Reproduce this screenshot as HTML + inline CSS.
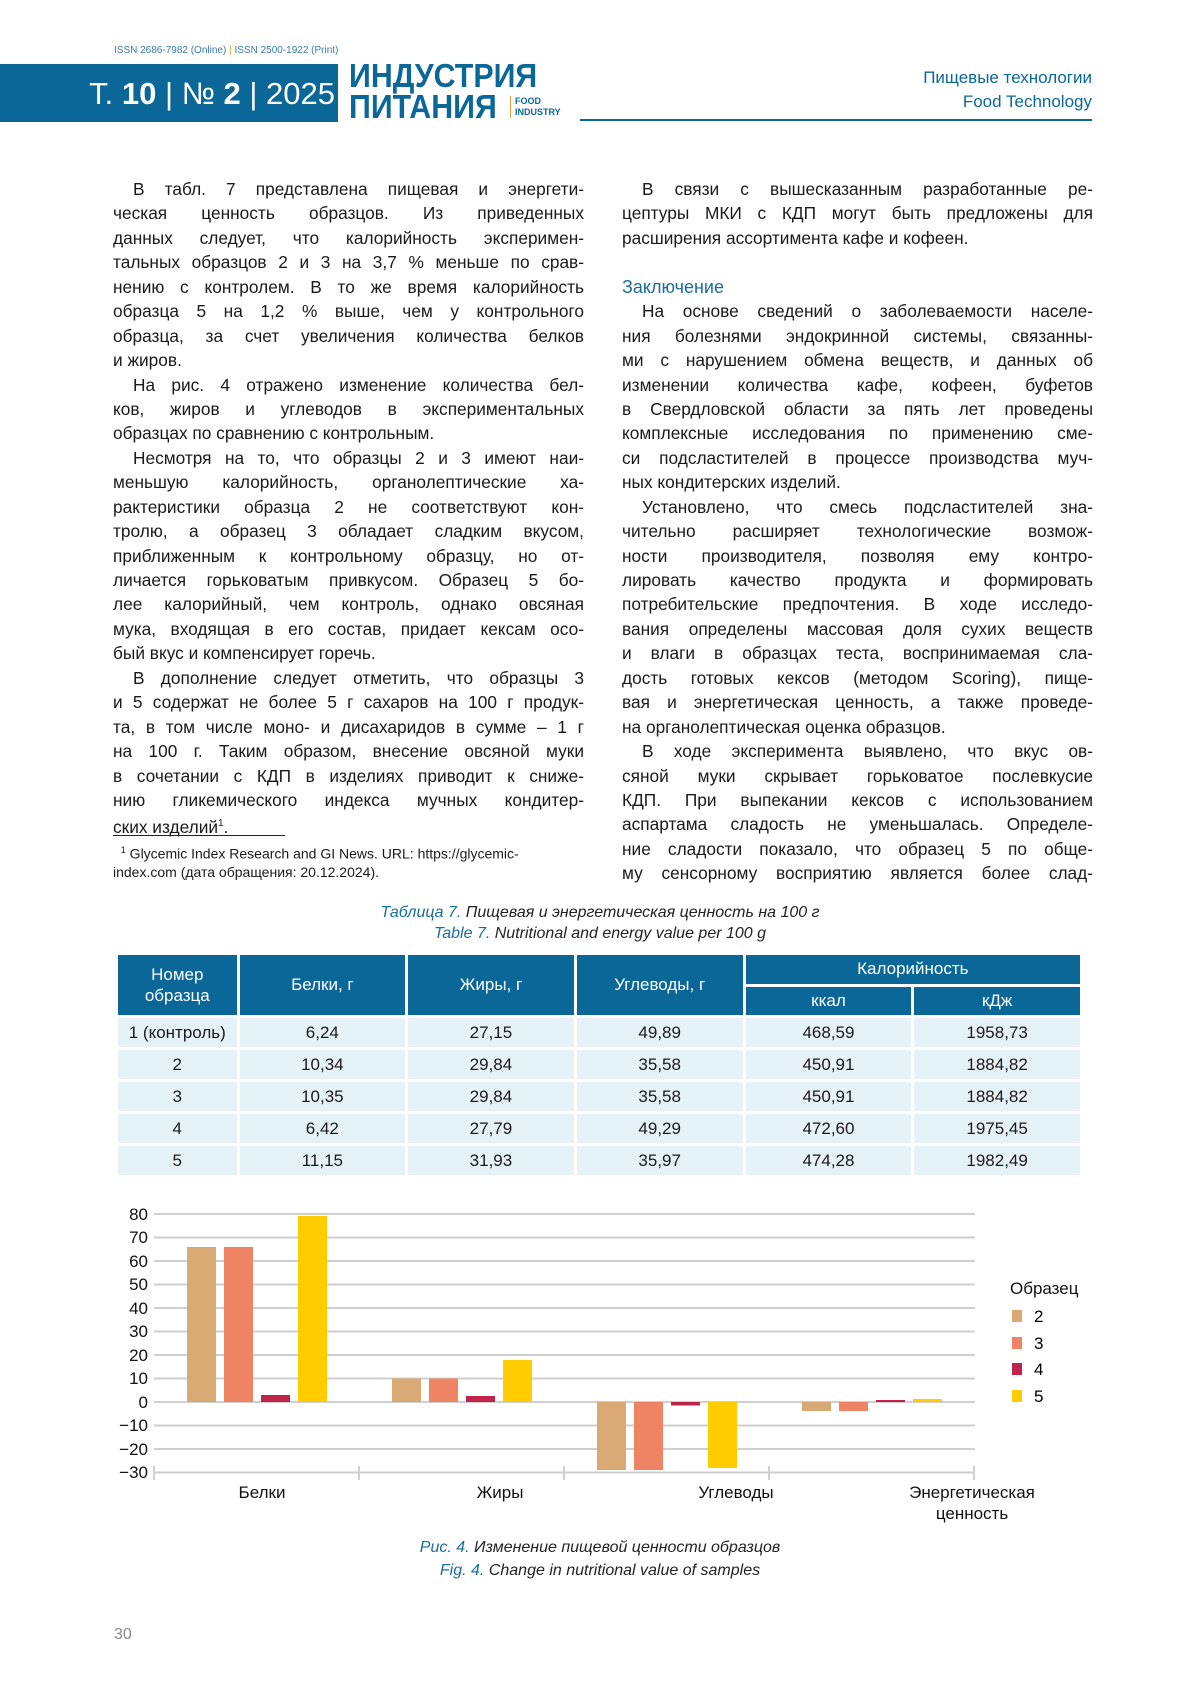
<!DOCTYPE html>
<html><head><meta charset="utf-8">
<style>
body{margin:0;width:1200px;height:1697px;position:relative;background:#fff;font-family:"Liberation Sans","DejaVu Sans",sans-serif;color:#1a1a1a;overflow:hidden}
.abs{position:absolute}
.col{position:absolute;width:471px;font-size:17.3px}
.col div{height:24.45px;line-height:24.45px;white-space:nowrap;text-align:justify;text-align-last:justify}
.col div.l{text-align-last:left}
.col div.i{text-indent:20px}
.blue{color:#1a6d9c}
table{border-collapse:separate;border-spacing:3px;position:absolute;left:115px;top:952px;width:968px;font-size:17px}
td,th{text-align:center;padding:0}
th{background:#0b6797;color:#fff;font-weight:normal}
td{background:#e5f3f9;height:29px}
.cap{position:absolute;left:0;width:1200px;text-align:center;font-style:italic;font-size:16px;color:#222}
</style></head><body>
<div class="abs" style="left:114px;top:45px;font-size:10px;color:#3a7aa8">ISSN 2686-7982 (Online) <span style="color:#e0a040">|</span> ISSN 2500-1922 (Print)</div>
<div class="abs" style="left:0;top:64px;width:338px;height:58px;background:#0b6797"></div>
<div class="abs" style="left:0;top:72px;width:335px;text-align:right;color:#fff;font-size:31px;line-height:44px">Т. <b>10</b> | № <b>2</b> | 2025</div>
<div class="abs" style="left:349px;top:60px;color:#0b6797;font-size:33px;font-weight:bold;line-height:31px;transform:scaleX(.92);transform-origin:left">ИНДУСТРИЯ<br>ПИТАНИЯ</div>
<div class="abs" style="left:510px;top:96px;border-left:1px solid #e0a040;padding-left:4px;color:#0b6797;font-size:9px;font-weight:bold;line-height:11px">FOOD<br>INDUSTRY</div>
<div class="abs" style="left:580px;top:119px;width:512px;height:2px;background:#0b6797"></div>
<div class="abs" style="left:800px;top:66px;width:292px;text-align:right;color:#0b6797;font-size:17px;line-height:24px">Пищевые технологии<br>Food Technology</div>

<div class="col" style="left:113px;top:177px">
<div class="i">В табл. 7 представлена пищевая и энергети-</div>
<div>ческая ценность образцов. Из приведенных</div>
<div>данных следует, что калорийность эксперимен-</div>
<div>тальных образцов 2 и 3 на 3,7 % меньше по срав-</div>
<div>нению с контролем. В то же время калорийность</div>
<div>образца 5 на 1,2 % выше, чем у контрольного</div>
<div>образца, за счет увеличения количества белков</div>
<div class="l">и жиров.</div>
<div class="i">На рис. 4 отражено изменение количества бел-</div>
<div>ков, жиров и углеводов в экспериментальных</div>
<div class="l">образцах по сравнению с контрольным.</div>
<div class="i">Несмотря на то, что образцы 2 и 3 имеют наи-</div>
<div>меньшую калорийность, органолептические ха-</div>
<div>рактеристики образца 2 не соответствуют кон-</div>
<div>тролю, а образец 3 обладает сладким вкусом,</div>
<div>приближенным к контрольному образцу, но от-</div>
<div>личается горьковатым привкусом. Образец 5 бо-</div>
<div>лее калорийный, чем контроль, однако овсяная</div>
<div>мука, входящая в его состав, придает кексам осо-</div>
<div class="l">бый вкус и компенсирует горечь.</div>
<div class="i">В дополнение следует отметить, что образцы 3</div>
<div>и 5 содержат не более 5 г сахаров на 100 г продук-</div>
<div>та, в том числе моно- и дисахаридов в сумме – 1 г</div>
<div>на 100 г. Таким образом, внесение овсяной муки</div>
<div>в сочетании с КДП в изделиях приводит к сниже-</div>
<div>нию гликемического индекса мучных кондитер-</div>
<div class="l">ских изделий<sup style="font-size:10px">1</sup>.</div>
</div>
<div class="abs" style="left:113px;top:835px;width:172px;height:1px;background:#222"></div>
<div class="abs" style="left:113px;top:841px;width:471px;font-size:14px;line-height:18px;text-align:justify;text-align-last:left">&nbsp;&nbsp;<sup style="font-size:9px">1</sup> Glycemic Index Research and GI News. URL: https://glycemic-<br>index.com (дата обращения: 20.12.2024).</div>

<div class="col" style="left:622px;top:177px">
<div class="i">В связи с вышесказанным разработанные ре-</div>
<div>цептуры МКИ с КДП могут быть предложены для</div>
<div class="l">расширения ассортимента кафе и кофеен.</div>
<div class="l"></div>
<div class="l blue" style="font-size:18px">Заключение</div>
<div class="i">На основе сведений о заболеваемости населе-</div>
<div>ния болезнями эндокринной системы, связанны-</div>
<div>ми с нарушением обмена веществ, и данных об</div>
<div>изменении количества кафе, кофеен, буфетов</div>
<div>в Свердловской области за пять лет проведены</div>
<div>комплексные исследования по применению сме-</div>
<div>си подсластителей в процессе производства муч-</div>
<div class="l">ных кондитерских изделий.</div>
<div class="i">Установлено, что смесь подсластителей зна-</div>
<div>чительно расширяет технологические возмож-</div>
<div>ности производителя, позволяя ему контро-</div>
<div>лировать качество продукта и формировать</div>
<div>потребительские предпочтения. В ходе исследо-</div>
<div>вания определены массовая доля сухих веществ</div>
<div>и влаги в образцах теста, воспринимаемая сла-</div>
<div>дость готовых кексов (методом Scoring), пище-</div>
<div>вая и энергетическая ценность, а также проведе-</div>
<div class="l">на органолептическая оценка образцов.</div>
<div class="i">В ходе эксперимента выявлено, что вкус ов-</div>
<div>сяной муки скрывает горьковатое послевкусие</div>
<div>КДП. При выпекании кексов с использованием</div>
<div>аспартама сладость не уменьшалась. Определе-</div>
<div>ние сладости показало, что образец 5 по обще-</div>
<div>му сенсорному восприятию является более слад-</div>
</div>

<div class="cap" style="top:904px"><span class="blue">Таблица 7.</span> Пищевая и энергетическая ценность на 100 г</div>
<div class="cap" style="top:925px"><span class="blue">Table 7.</span> Nutritional and energy value per 100 g</div>

<table>
<tr><th rowspan="2" style="width:119px;height:60px;line-height:21px">Номер<br>образца</th><th rowspan="2" style="width:167px">Белки, г</th><th rowspan="2" style="width:167px">Жиры, г</th><th rowspan="2" style="width:167px">Углеводы, г</th><th colspan="2" style="height:27px">Калорийность</th></tr>
<tr><th style="width:167px;height:27px">ккал</th><th style="width:167px">кДж</th></tr>
<tr><td>1 (контроль)</td><td>6,24</td><td>27,15</td><td>49,89</td><td>468,59</td><td>1958,73</td></tr>
<tr><td>2</td><td>10,34</td><td>29,84</td><td>35,58</td><td>450,91</td><td>1884,82</td></tr>
<tr><td>3</td><td>10,35</td><td>29,84</td><td>35,58</td><td>450,91</td><td>1884,82</td></tr>
<tr><td>4</td><td>6,42</td><td>27,79</td><td>49,29</td><td>472,60</td><td>1975,45</td></tr>
<tr><td>5</td><td>11,15</td><td>31,93</td><td>35,97</td><td>474,28</td><td>1982,49</td></tr>
</table>

<svg class="abs" style="left:0;top:0" width="1200" height="1697" font-family="Liberation Sans, sans-serif">
<g stroke="#cfcfcf" stroke-width="2">
<line x1="154" x2="975" y1="1214" y2="1214"/><line x1="154" x2="975" y1="1237.5" y2="1237.5"/>
<line x1="154" x2="975" y1="1261" y2="1261"/><line x1="154" x2="975" y1="1284.5" y2="1284.5"/>
<line x1="154" x2="975" y1="1308" y2="1308"/><line x1="154" x2="975" y1="1331.5" y2="1331.5"/>
<line x1="154" x2="975" y1="1355" y2="1355"/><line x1="154" x2="975" y1="1378.5" y2="1378.5"/>
<line x1="154" x2="975" y1="1402" y2="1402"/><line x1="154" x2="975" y1="1425.5" y2="1425.5"/>
<line x1="154" x2="975" y1="1449" y2="1449"/><line x1="154" x2="975" y1="1472.5" y2="1472.5"/>
<line x1="154" x2="154" y1="1466" y2="1480"/><line x1="359" x2="359" y1="1466" y2="1480"/>
<line x1="564" x2="564" y1="1466" y2="1480"/><line x1="769" x2="769" y1="1466" y2="1480"/>
<line x1="974" x2="974" y1="1466" y2="1480"/>
</g>
<g font-size="17" fill="#111" text-anchor="end">
<text x="148" y="1220">80</text><text x="148" y="1243">70</text><text x="148" y="1267">60</text>
<text x="148" y="1290">50</text><text x="148" y="1314">40</text><text x="148" y="1337">30</text>
<text x="148" y="1361">20</text><text x="148" y="1384">10</text><text x="148" y="1408">0</text>
<text x="148" y="1431">−10</text><text x="148" y="1455">−20</text><text x="148" y="1478">−30</text>
</g>
<rect x="187" y="1247" width="29" height="155" fill="#d9a974"/>
<rect x="224" y="1247" width="29" height="155" fill="#ef8464"/>
<rect x="261" y="1395" width="29" height="7" fill="#c0244a"/>
<rect x="298" y="1216" width="29" height="186" fill="#ffcc00"/>
<rect x="392" y="1378.5" width="29" height="23.5" fill="#d9a974"/>
<rect x="429" y="1378.5" width="29" height="23.5" fill="#ef8464"/>
<rect x="466" y="1396" width="29" height="6" fill="#c0244a"/>
<rect x="503" y="1360" width="29" height="42" fill="#ffcc00"/>
<rect x="597" y="1402" width="29" height="68" fill="#d9a974"/>
<rect x="634" y="1402" width="29" height="68" fill="#ef8464"/>
<rect x="671" y="1402" width="29" height="3.5" fill="#c0244a"/>
<rect x="708" y="1402" width="29" height="66" fill="#ffcc00"/>
<rect x="802" y="1402" width="29" height="9" fill="#d9a974"/>
<rect x="839" y="1402" width="29" height="9" fill="#ef8464"/>
<rect x="876" y="1400" width="29" height="2" fill="#c0244a"/>
<rect x="913" y="1399" width="29" height="3" fill="#ffcc00"/>
<g font-size="17" fill="#111" text-anchor="middle">
<text x="262" y="1498">Белки</text><text x="500" y="1498">Жиры</text>
<text x="736" y="1498">Углеводы</text><text x="972" y="1498">Энергетическая</text>
<text x="972" y="1519">ценность</text>
</g>
<text x="1010" y="1294" font-size="17" fill="#111">Образец</text>
<rect x="1012" y="1310" width="10" height="12" fill="#d9a974"/><text x="1034" y="1322" font-size="17">2</text>
<rect x="1012" y="1337" width="10" height="12" fill="#ef8464"/><text x="1034" y="1349" font-size="17">3</text>
<rect x="1012" y="1363" width="10" height="12" fill="#c0244a"/><text x="1034" y="1375" font-size="17">4</text>
<rect x="1012" y="1390" width="10" height="12" fill="#ffcc00"/><text x="1034" y="1402" font-size="17">5</text>
</svg>
<div class="cap" style="top:1539px"><span class="blue">Рис. 4.</span> Изменение пищевой ценности образцов</div>
<div class="cap" style="top:1562px"><span class="blue">Fig. 4.</span> Change in nutritional value of samples</div>
<div class="abs" style="left:114px;top:1626px;font-size:16px;color:#888">30</div>
</body></html>
